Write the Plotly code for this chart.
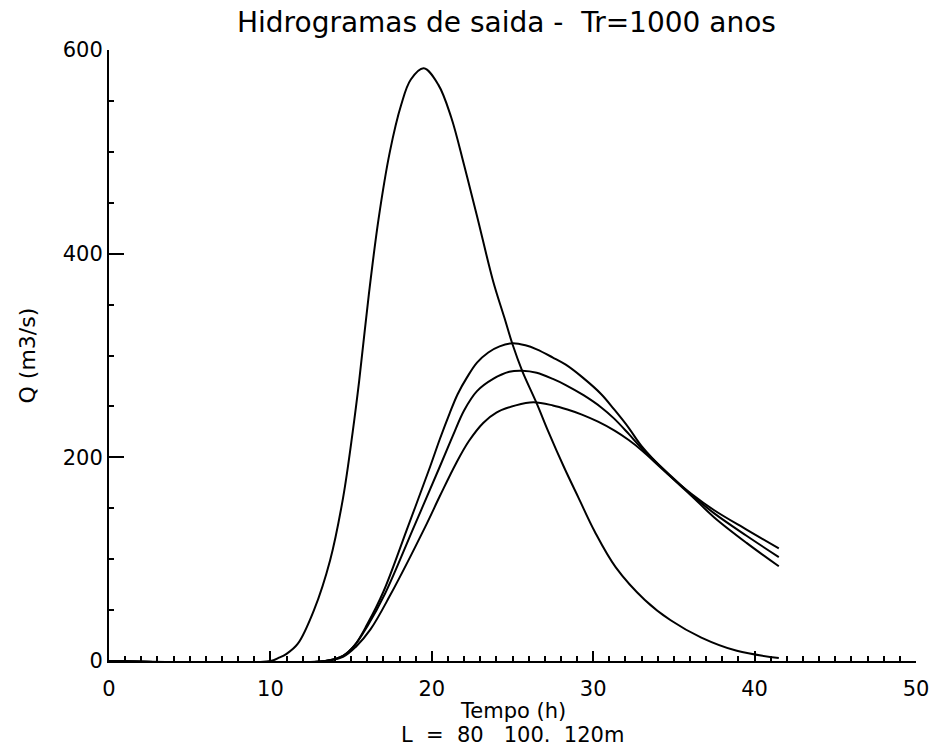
import plotly.graph_objects as go

# Series A (sharp peak)
t_a = [0, 10.0, 10.5, 11.0, 11.7, 12.7, 13.7, 14.5, 15.1, 15.5, 16.1, 16.7, 17.4, 18.1, 18.7,
       19.5, 20.4, 21.2, 22.0, 22.8, 23.8, 24.5, 25.0, 25.6, 26.5, 27.2, 28.2, 29.1, 30.1,
       31.4, 33.2, 34.8, 36.7, 38.9, 41.5]
q_a = [0, 0, 3, 7, 17, 50, 99, 160, 225, 275, 360, 434, 500, 546, 571,
       582, 566, 534, 487, 437, 373, 337, 311, 285, 253, 226, 190, 160, 127,
       92, 60, 40, 23, 10, 3]

# Series B (highest attenuated peak)
t_b = [0, 13.4, 14.5, 15.2, 16.0, 17.0, 18.5, 19.9, 20.5, 21.1, 21.6, 22.2, 22.8, 23.5,
       24.2, 25.0, 25.8, 26.5, 27.5, 28.3, 29.3, 30.5, 31.3, 32.2, 33.0, 34.6, 36.1,
       37.5, 39.5, 41.5]
q_b = [0, 0, 5, 15, 36, 68, 131, 191, 218, 243, 262, 279, 293, 303,
       309, 312, 310, 306, 298, 291, 279, 262, 247, 229, 211, 184, 162,
       141, 116, 93]

# Series C
t_c = [0, 13.4, 14.5, 15.2, 16.0, 17.1, 18.9, 20.5, 21.3, 22.0, 22.8, 23.8, 24.8, 25.6,
       26.5, 27.5, 28.3, 29.4, 30.5, 31.3, 32.2, 33.0, 34.6, 36.1, 37.5, 39.5, 41.5]
q_c = [0, 0, 5, 15, 34, 66, 132, 191, 221, 246, 265, 277, 284, 285,
       283, 277, 271, 261, 249, 238, 223, 209, 185, 163, 145, 123, 102]

# Series D (lowest peak)
t_d = [0, 13.4, 14.5, 15.3, 16.2, 17.4, 19.6, 20.5, 21.5, 22.3, 23.2, 24.0, 25.2, 26.3,
       27.5, 28.4, 29.3, 30.3, 31.35, 32.2, 33.0, 34.6, 36.1, 37.5, 39.5, 41.5]
q_d = [0, 0, 4, 14, 31, 64, 132, 162, 194, 216, 234, 244, 251, 254,
       251, 247, 242, 235, 226, 217, 207, 184, 164, 148, 129, 110.5]

x_ticks = [0, 10, 20, 30, 40, 50]
y_ticks = [0, 200, 400, 600]

title_text = "Hidrogramas de saida -  Tr=1000 anos"
xtitle_1 = "Tempo (h)"
xtitle_2 = "L  =  80   100.  120m"
ytitle = "Q (m3/s)"

FONT = "DejaVu Sans"

fig = go.Figure()
for t, q in [(t_a, q_a), (t_b, q_b), (t_c, q_c), (t_d, q_d)]:
    fig.add_trace(go.Scatter(x=t, y=q, mode="lines",
                             line=dict(color="black", width=2, shape="spline", smoothing=1.0),
                             showlegend=False, hoverinfo="skip"))

fig.update_layout(
    width=941, height=748,
    margin=dict(l=109, r=17, t=50, b=87),
    paper_bgcolor="white", plot_bgcolor="white",
    font=dict(family=FONT, color="black", size=18),
    showlegend=False,
)
fig.update_xaxes(
    range=[0, 50], tickvals=x_ticks, ticktext=[str(v) for v in x_ticks],
    showgrid=False, zeroline=False, showline=True, linecolor="black", linewidth=2,
    ticks="inside", ticklen=10, tickwidth=2, tickcolor="black",
    minor=dict(dtick=1, ticks="inside", ticklen=5, tickwidth=1.5, tickcolor="black", showgrid=False),
    tickfont=dict(size=21, family=FONT), ticklabelstandoff=8, mirror=False,
)
fig.update_yaxes(
    range=[0, 600], tickvals=y_ticks, ticktext=[str(v) for v in y_ticks],
    showgrid=False, zeroline=False, showline=True, linecolor="black", linewidth=2,
    ticks="inside", ticklen=15, tickwidth=2, tickcolor="black",
    minor=dict(dtick=50, ticks="inside", ticklen=5, tickwidth=1.5, tickcolor="black", showgrid=False),
    tickfont=dict(size=21, family=FONT), mirror=False,
)

fig.add_annotation(text=title_text, xref="paper", yref="paper", x=0.492, y=1,
                   yshift=28, showarrow=False, font=dict(size=28, family=FONT),
                   xanchor="center", yanchor="middle")
fig.add_annotation(text=xtitle_1, xref="paper", yref="paper", x=0.5, y=0,
                   yshift=-50, showarrow=False, font=dict(size=21, family=FONT),
                   xanchor="center", yanchor="middle")
fig.add_annotation(text=xtitle_2, xref="paper", yref="paper", x=0.5, y=0,
                   yshift=-74, showarrow=False, font=dict(size=21, family=FONT),
                   xanchor="center", yanchor="middle")
fig.add_annotation(text=ytitle, xref="paper", yref="paper", x=0, y=0.5,
                   xshift=-82, showarrow=False, textangle=-90, font=dict(size=22, family=FONT),
                   xanchor="center", yanchor="middle")

fig.write_html("out.html")
